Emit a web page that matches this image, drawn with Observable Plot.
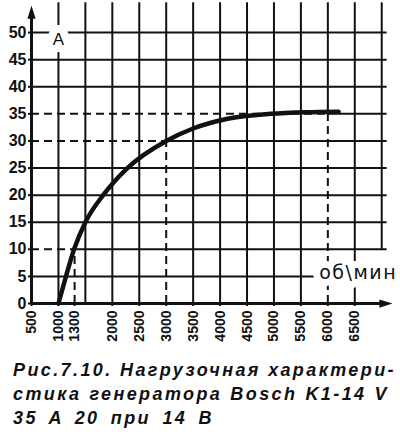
<!DOCTYPE html>
<html><head><meta charset="utf-8">
<script src="https://cdn.jsdelivr.net/npm/d3@7"></script>
<script src="https://cdn.jsdelivr.net/npm/@observablehq/plot@0.6"></script>
<style>
body{margin:0;background:#fff;width:400px;height:432px;overflow:hidden}
#chart svg{display:block}
#cap{font-family:"Liberation Sans",Arial,sans-serif;font-weight:bold;font-style:italic;font-size:18px;line-height:24px;color:#111;margin-top:8px;padding-left:13px;letter-spacing:2.4px}
#cap div{white-space:nowrap}
#cap div:nth-child(2){width:376px;text-align:justify;text-align-last:justify}
#cap div:nth-child(3){width:201px;text-align:justify;text-align-last:justify}
</style></head><body>
<div id="chart"></div>
<div id="cap"></div>
<script>
// Load characteristic: current (A) vs generator speed (rpm)
const rpm  = [1000, 1140, 1290, 1500, 1830, 2280, 3000, 3500, 4140, 4940, 5600, 6200];
const amps = [0,    5,    10,   15,   20,   25,   30,   32.3, 34.1, 35.0, 35.3, 35.4];

// Grid / tick values
const xGrid   = [1000, 1500, 2000, 2500, 3000, 3500, 4000, 4500, 5000, 5500, 6000, 6500, 7000];
const yGrid   = [5, 10, 15, 20, 25, 30, 35, 40, 45, 50];
const xLabels = [500, 1000, 1300, 2000, 2500, 3000, 3500, 4000, 4500, 5000, 5500, 6000, 6500];
const yLabels = [0, 5, 10, 15, 20, 25, 30, 35, 40, 45, 50];

// Dashed guide points (rpm, A)
const guideRpm = [1300, 3000, 6000];
const guideAmp = [10, 30, 35];

const xUnit = "об\\мин";
const yUnit = "A";
const caption = [
  "Рис.7.10. Нагрузочная характери-",
  "стика генератора Bosch K1-14 V",
  "35 A 20 при 14 В"
];

const X0 = 500, XMAX = 7200, XGRIDEND = 7100, YMAX = 55, YGRIDTOP = 55.5;

const vLines = xGrid.map((x, i) => {
  const gi = guideRpm.indexOf(x);
  const from = gi >= 0 ? guideAmp[gi] : (i === xGrid.length - 1 ? guideAmp[0] : 0);
  return {x, y1: from, y2: YGRIDTOP};
});
const hLines = yGrid.map(y => {
  const gi = guideAmp.indexOf(y);
  return {y, x1: gi >= 0 ? guideRpm[gi] : X0, x2: XGRIDEND};
});
const hDash = guideRpm.map((r, i) => ({y: guideAmp[i], x1: X0, x2: r}));
const vDash = guideRpm.map((r, i) => ({x: r, y1: 0, y2: guideAmp[i]}));

const arrowSym = {
  draw(ctx, size) {
    const r = Math.sqrt(size / Math.PI);
    ctx.moveTo(0, 0);
    ctx.lineTo(0.55 * r, 1.75 * r);
    ctx.lineTo(-0.55 * r, 1.75 * r);
    ctx.closePath();
  }
};
const ink = "#111";

const chart = Plot.plot({
  width: 400, height: 350,
  marginLeft: 31, marginRight: 8, marginTop: 5, marginBottom: 47,
  x: {domain: [X0, XMAX]},
  y: {domain: [0, YMAX]},
  style: {background: "white", color: ink},
  marks: [
    Plot.ruleX(vLines, {x: "x", y1: "y1", y2: "y2", stroke: ink, strokeWidth: 2}),
    Plot.ruleY(hLines, {y: "y", x1: "x1", x2: "x2", stroke: ink, strokeWidth: 2}),
    Plot.ruleY(hDash, {y: "y", x1: "x1", x2: "x2", stroke: ink, strokeWidth: 2, strokeDasharray: "8,5"}),
    Plot.ruleX(vDash, {x: "x", y1: "y1", y2: "y2", stroke: ink, strokeWidth: 2, strokeDasharray: "8,5"}),
    Plot.text([yUnit], {x: xGrid[0], y: 48.7, text: d => d, fontSize: 17, fill: ink,
      stroke: "white", strokeWidth: 16, fontFamily: "Liberation Sans, Arial, sans-serif"}),
    Plot.text([xUnit], {x: 5840, y: 5.7, text: d => d, fontSize: 19, fill: ink, textAnchor: "start",
      stroke: "white", strokeWidth: 14, fontFamily: "DejaVu Sans, sans-serif"}),
    Plot.line(rpm.map((r, i) => ({r, a: amps[i]})), {x: "r", y: "a", stroke: ink, strokeWidth: 4.5, curve: "monotone-x"}),
    Plot.ruleX([X0], {y1: 0, y2: YMAX - 2, stroke: ink, strokeWidth: 3}),
    Plot.ruleY([0], {x1: X0, x2: XMAX - 100, stroke: ink, strokeWidth: 3}),
    Plot.dot([0], {x: X0, y: YMAX, r: 7.5, symbol: arrowSym, fill: ink, stroke: null}),
    Plot.dot([0], {x: XMAX, y: 0, r: 7.5, symbol: arrowSym, rotate: 90, fill: ink, stroke: null}),
    Plot.axisY(yLabels, {tickSize: 3, tickPadding: 2, fontSize: 16, fontWeight: "bold", strokeWidth: 2,
      fontFamily: "Liberation Sans, Arial, sans-serif", label: null}),
    Plot.axisX(xLabels, {tickSize: 3, tickPadding: 4, tickRotate: -90, fontSize: 14, fontWeight: "bold", strokeWidth: 2,
      tickFormat: d => String(d),
      fontFamily: "Liberation Sans, Arial, sans-serif", label: null})
  ]
});
document.getElementById("chart").appendChild(chart);
d3.select(chart).selectAll("text").filter(function() { return this.textContent === xUnit; })
  .style("letter-spacing", "1.5px");
const cap = document.getElementById("cap");
caption.forEach(t => { const d = document.createElement("div"); d.textContent = t; cap.appendChild(d); });
</script>
</body></html>
